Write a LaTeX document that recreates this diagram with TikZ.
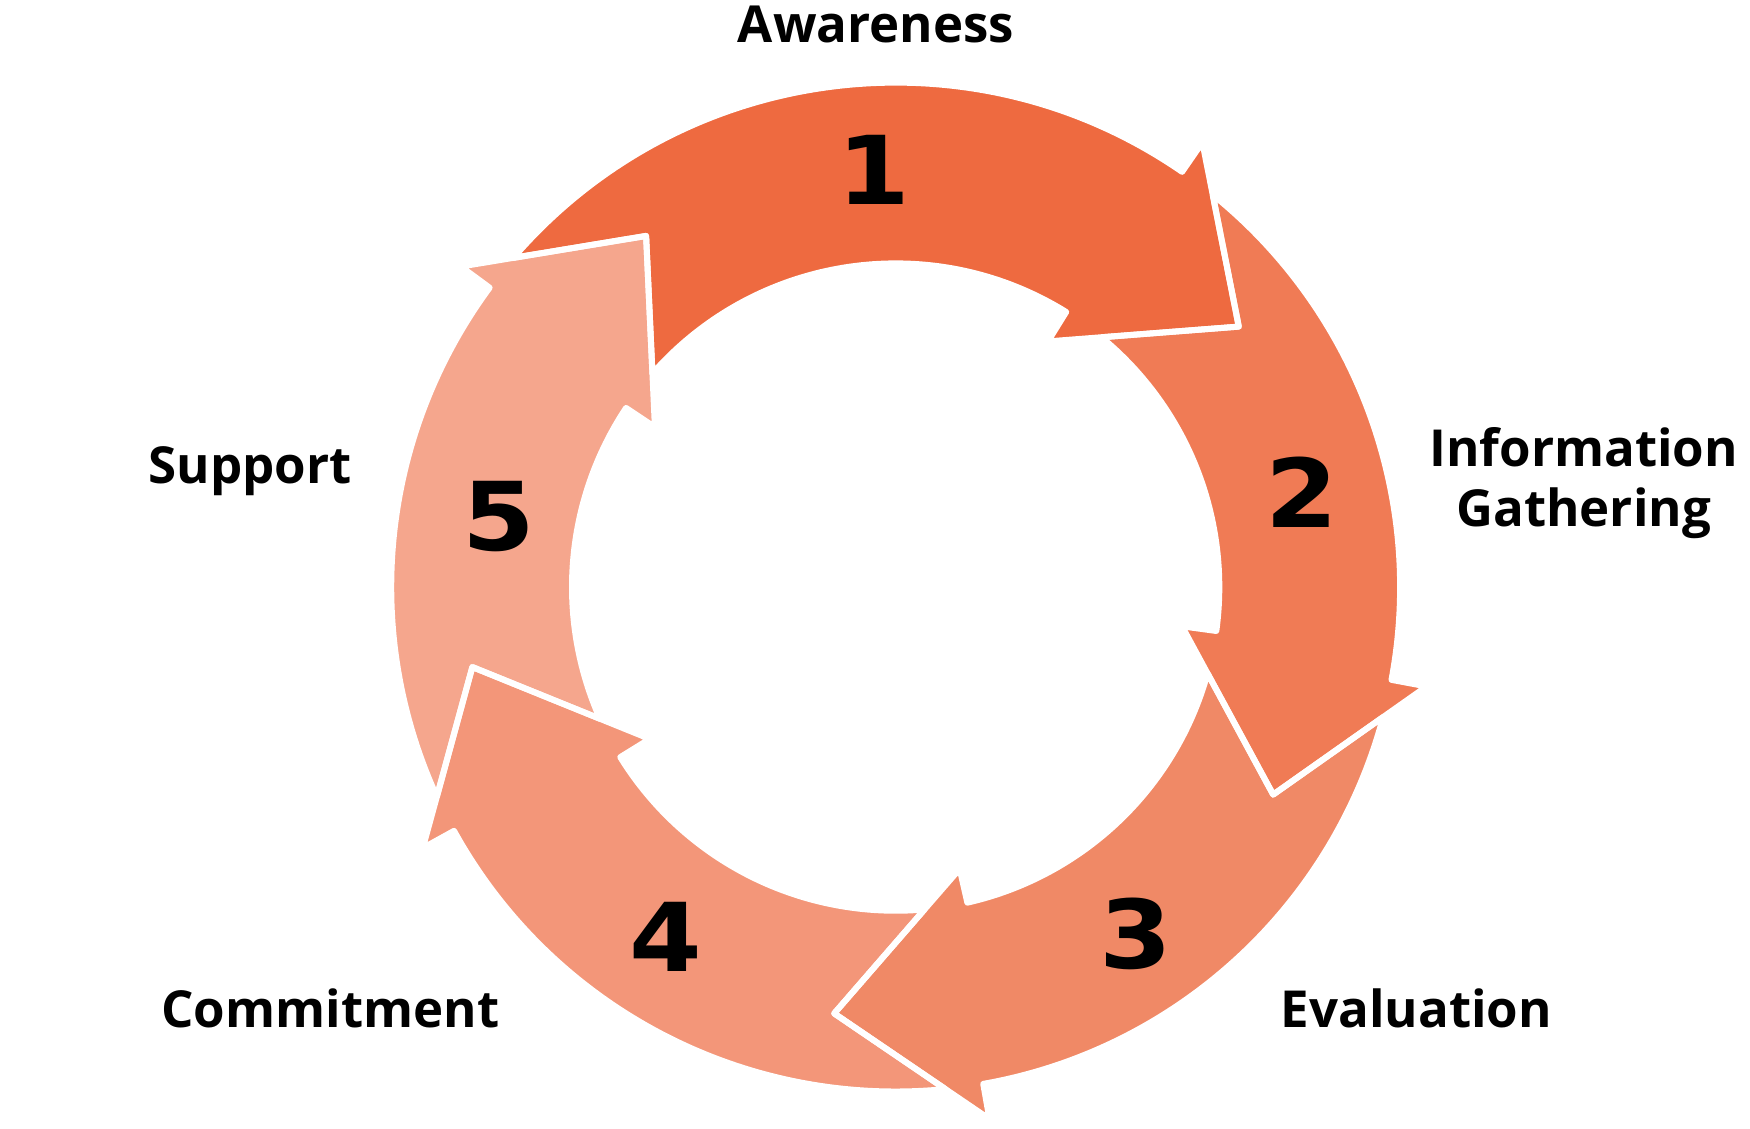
\documentclass[tikz,border=0pt]{standalone}
\usepackage{fontspec}
\setmainfont{Open Sans}
\newfontfamily\lblfont{Open Sans Bold}
\newfontfamily\digitfont{DejaVu Sans}
\definecolor{arA}{HTML}{EE6A40}
\definecolor{arB}{HTML}{F07B55}
\definecolor{arC}{HTML}{F08966}
\definecolor{arD}{HTML}{F39679}
\definecolor{arE}{HTML}{F5A68D}
% #1 = head angle of previous arrow, #2 = head angle of this arrow
\newcommand{\cyclepath}[2]{({#1-4.34}:452) arc[start angle={#1-4.34}, end angle={#2}, radius=452] -- ({#2}:484) -- ({#2-18.2}:386) -- ({#2+2.8}:259) -- ({#2+2.8}:290) arc[start angle={#2+2.8}, end angle={#1-4.88}, radius=290] -- ({#1-18.2}:386) -- cycle}
\begin{document}
\begin{tikzpicture}[x=1.1161pt,y=1.1161pt,
  lbl/.style={font=\lblfont\fontsize{51}{60}\selectfont, inner sep=0pt, anchor=base, align=center},
  num/.style={font=\digitfont\fontsize{95}{100}\selectfont\bfseries, inner sep=0pt, anchor=base, xscale=1.1},
  gapline/.style={draw=white, line width=6pt, line join=round}]
\useasboundingbox (0,-1011) rectangle (1568,0);
\begin{scope}[shift={(802.5,-526)}]
  \fill[arA] \cyclepath{143.6}{55.4};
  \fill[arB] \cyclepath{55.4}{-10.6};
  \fill[arC] \cyclepath{-10.6}{-80};
  \fill[arD] \cyclepath{280}{208.9};
  \fill[arE] \cyclepath{208.9}{143.6};
  \path[gapline] \cyclepath{143.6}{55.4};
  \path[gapline] \cyclepath{55.4}{-10.6};
  \path[gapline] \cyclepath{-10.6}{-80};
  \path[gapline] \cyclepath{280}{208.9};
  \path[gapline] \cyclepath{208.9}{143.6};
\end{scope}
\node[num] (n1) at (783,-183) {1};
\node[num] (n2) at (1166,-473) {2};
\node[num] (n3) at (1018,-868) {3};
\node[num] (n4) at (597,-870) {4};
\node[num] (n5) at (447,-493) {5};
\node[lbl] (aw) at (785,-38) {Awareness};
\node[lbl, anchor=center] (ig) at (1419,-433) {Information\\Gathering};
\node[lbl] (su) at (224,-433) {Support};
\node[lbl] (co) at (296,-921) {Commitment};
\node[lbl] (ev) at (1269,-921) {Evaluation};
\end{tikzpicture}
\end{document}
